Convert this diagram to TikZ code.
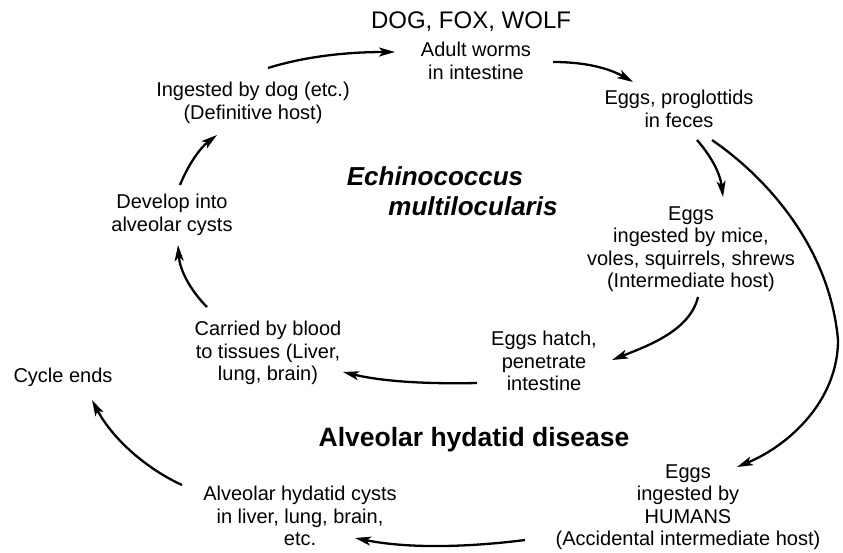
\documentclass[tikz,border=0pt]{standalone}
\usepackage{fontspec}
\setmainfont{Liberation Sans}
\usetikzlibrary{arrows.meta}
\begin{document}
\begin{tikzpicture}[x=1pt,y=-1pt,
  lbl/.style={inner sep=0pt, align=center, font={\fontsize{20}{22.5}\selectfont}},
  ttl/.style={inner sep=0pt, font={\fontsize{24}{26}\selectfont}},
  species/.style={inner sep=0pt, font={\fontsize{26}{30}\selectfont\bfseries\itshape}},
  disease/.style={inner sep=0pt, font={\fontsize{26.5}{30}\selectfont\bfseries}},
  flow/.style={line width=2.3pt, -{Stealth[length=16pt,width=9pt,inset=4pt]}}]
\useasboundingbox (0,0) rectangle (843,552);

\node[ttl] (host) at (471,22) {DOG, FOX, WOLF};
\node[lbl] (adult) at (476,61) {Adult worms\\in intestine};
\node[lbl] (feces) at (679,109) {Eggs, proglottids\\in feces};
\node[lbl] (mice) at (691,249) {Eggs\\ingested by mice,\\voles, squirrels, shrews\\(Intermediate host)};
\node[lbl] (hatch) at (544,361) {Eggs hatch,\\penetrate\\intestine};
\node[lbl] (blood) at (268,353) {Carried by blood\\to tissues (Liver,\\lung, brain)};
\node[lbl] (develop) at (172,215) {Develop into\\alveolar cysts};
\node[lbl] (dog) at (253,103) {Ingested by dog (etc.)\\(Definitive host)};
\node[species] (echi) at (435,176) {Echinococcus};
\node[species] (multi) at (473,206) {multilocularis};
\node[disease] (disease) at (474,440) {Alveolar hydatid disease};
\node[lbl] (humans) at (688,507) {Eggs\\ingested by\\HUMANS\\(Accidental intermediate host)};
\node[lbl] (cysts) at (300,516) {Alveolar hydatid cysts\\in liver, lung, brain,\\etc.};
\node[lbl] (ends) at (63,377) {Cycle ends};

% connector ends
\coordinate (dogOut) at (268,68);
\coordinate (adultIn) at (395,52);
\coordinate (adultOut) at (553,62);
\coordinate (fecesIn) at (633,82);
\coordinate (fecesOutA) at (697,140);
\coordinate (fecesOutB) at (712,140);
\coordinate (miceIn) at (723,197);
\coordinate (miceOut) at (698,297);
\coordinate (hatchIn) at (612,360);
\coordinate (hatchOut) at (477,383);
\coordinate (bloodIn) at (343,372);
\coordinate (bloodOut) at (207,307);
\coordinate (developIn) at (178,245);
\coordinate (developOut) at (180,185);
\coordinate (dogIn) at (217,135);
\coordinate (humansIn) at (737,467);
\coordinate (humansOut) at (525,540);
\coordinate (cystsIn) at (355,538);
\coordinate (cystsOut) at (182,485);
\coordinate (endsIn) at (92,400);

\draw[flow] (dogOut) .. controls (300,58) and (340,52) .. (adultIn);
\draw[flow] (adultOut) .. controls (590,62) and (612,70) .. (fecesIn);
\draw[flow] (fecesOutA) .. controls (710,155) and (720,172) .. (miceIn);
\draw[flow] (fecesOutB) .. controls (770,180) and (830,250) .. (838,340)
                        .. controls (838,400) and (790,445) .. (humansIn);
\draw[flow] (miceOut) .. controls (690,330) and (650,345) .. (hatchIn);
\draw[flow] (hatchOut) .. controls (430,384) and (385,382) .. (bloodIn);
\draw[flow] (bloodOut) .. controls (192,292) and (180,272) .. (developIn);
\draw[flow] (developOut) .. controls (188,165) and (200,148) .. (dogIn);
\draw[flow] (humansOut) .. controls (470,547) and (410,549) .. (cystsIn);
\draw[flow] (cystsOut) .. controls (145,468) and (112,438) .. (endsIn);
\end{tikzpicture}
\end{document}
